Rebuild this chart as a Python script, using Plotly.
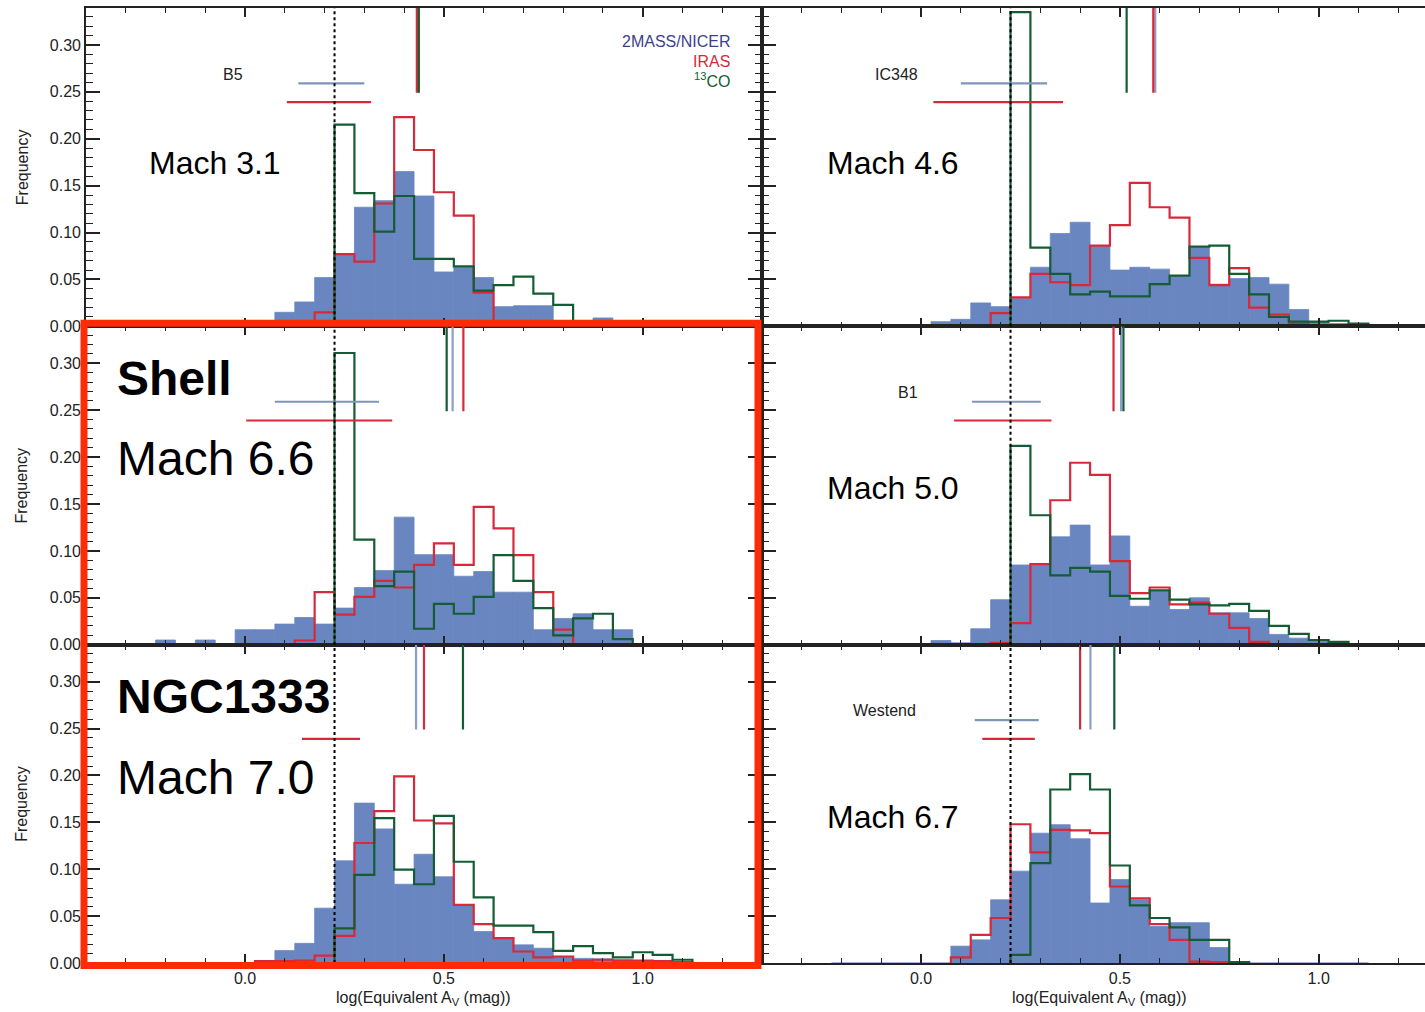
import plotly.graph_objects as go

# ---------------- data ----------------
BIN_WIDTH = 0.05
BIN_CENTERS = [-0.20, -0.15, -0.10, -0.05, 0.00, 0.05, 0.10, 0.15, 0.20, 0.25,
               0.30, 0.35, 0.40, 0.45, 0.50, 0.55, 0.60, 0.65, 0.70, 0.75,
               0.80, 0.85, 0.90, 0.95, 1.00, 1.05, 1.10]

#               -.20 -.15 -.10 -.05 0.00  0.05   0.10   0.15   0.20   0.25   0.30   0.35   0.40   0.45   0.50   0.55   0.60   0.65   0.70   0.75   0.80   0.85   0.90   0.95   1.00   1.05   1.10
B5_NICER =      [0, 0, 0, 0, 0,     0,     0.015, 0.026, 0.052, 0.077, 0.127, 0.134, 0.165, 0.139, 0.058, 0.063, 0.052, 0.021, 0.022, 0.022, 0,     0,     0.009, 0,     0,     0,     0]
B5_IRAS =       [0, 0, 0, 0, 0,     0,     0,     0,     0.015, 0.077, 0.069, 0.131, 0.223, 0.188, 0.143, 0.118, 0.036, 0,     0,     0,     0,     0,     0,     0,     0,     0,     0]
B5_CO =         [0, 0, 0, 0, 0,     0,     0,     0,     0,     0.215, 0.142, 0.101, 0.139, 0.072, 0.072, 0.064, 0.038, 0.044, 0.053, 0.035, 0.023, 0,     0,     0,     0,     0,     0]

IC348_NICER =   [0, 0, 0, 0, 0,     0.005, 0.0075, 0.025, 0.021, 0.030, 0.063, 0.099, 0.111, 0.086, 0.060, 0.063, 0.061, 0.054, 0.084, 0.045, 0.051, 0.052, 0.045, 0.018, 0.005, 0.003, 0]
IC348_IRAS =    [0, 0, 0, 0, 0,     0,     0,     0,     0.014, 0.031, 0.056, 0.047, 0.044, 0.086, 0.108, 0.153, 0.127, 0.116, 0.073, 0.044, 0.062, 0.020, 0.0125, 0.003, 0,   0,     0]
IC348_CO =      [0, 0, 0, 0, 0,     0,     0,     0,     0,     0.335, 0.084, 0.056, 0.034, 0.037, 0.032, 0.032, 0.045, 0.054, 0.085, 0.086, 0.056, 0.034, 0.010, 0.005, 0.005, 0.006, 0.003]

SHELL_NICER =   [0.005, 0, 0.005, 0, 0.016, 0.016, 0.022, 0.029, 0.022, 0.039, 0.061, 0.079, 0.136, 0.096, 0.096, 0.073, 0.078, 0.056, 0.056, 0.016, 0.028, 0.033, 0.016, 0.016, 0,  0,     0]
SHELL_IRAS =    [0, 0, 0, 0, 0,     0,     0,     0.0045, 0.056, 0.032, 0.051, 0.068, 0.061, 0.085, 0.108, 0.085, 0.147, 0.124, 0.0955, 0.056, 0.016, 0,   0,     0,     0,     0,     0]
SHELL_CO =      [0, 0, 0, 0, 0,     0,     0,     0,     0,     0.311, 0.112, 0.0625, 0.078, 0.017, 0.0436, 0.033, 0.051, 0.0955, 0.068, 0.039, 0.010, 0.028, 0.033, 0.006, 0,   0,     0]

B1_NICER =      [0, 0, 0, 0, 0,     0.0045, 0.002, 0.017, 0.048, 0.085, 0.085, 0.115, 0.1275, 0.085, 0.116, 0.041, 0.057, 0.0375, 0.050, 0.034, 0.034, 0.028, 0.011, 0.007, 0.0045, 0.002, 0]
B1_IRAS =       [0, 0, 0, 0, 0,     0,     0,     0,     0.002, 0.023, 0.086, 0.154, 0.194, 0.181, 0.089, 0.055, 0.061, 0.043, 0.045, 0.033, 0.018, 0.003, 0,     0,     0,     0,     0]
B1_CO =         [0, 0, 0, 0, 0,     0,     0,     0,     0,     0.212, 0.138, 0.074, 0.082, 0.078, 0.052, 0.049, 0.058, 0.048, 0.043, 0.042, 0.0435, 0.036, 0.020, 0.0115, 0.005, 0.003, 0]

NGC1333_NICER = [0, 0, 0, 0, 0,     0.001, 0.0133, 0.021, 0.0585, 0.109, 0.1705, 0.143, 0.084, 0.116, 0.092, 0.061, 0.0336, 0.0265, 0.0194, 0.0158, 0.007, 0.005, 0.0045, 0.0035, 0.0025, 0.002, 0.001]
NGC1333_IRAS =  [0, 0, 0, 0, 0,     0.002, 0.002, 0.0025, 0.008, 0.029, 0.128, 0.162, 0.199, 0.152, 0.149, 0.062, 0.0415, 0.0265, 0.0123, 0.006, 0.007, 0.0025, 0.0035, 0.0025, 0.0025, 0.002, 0.001]
NGC1333_CO =    [0, 0, 0, 0, 0,     0,     0,     0,     0,     0.037, 0.094, 0.1545, 0.0995, 0.084, 0.157, 0.108, 0.070, 0.040, 0.040, 0.033, 0.013, 0.018, 0.0105, 0.006, 0.0115, 0.0087, 0.0035]

WESTEND_NICER = [0, 0, 0, 0, 0,     0,     0.018, 0.0247, 0.0674, 0.098, 0.1385, 0.1475, 0.1325, 0.064, 0.089, 0.0674, 0.039, 0.043, 0.043, 0.0165, 0, 0,   0,     0,     0,     0,     0]
WESTEND_IRAS =  [0, 0, 0, 0, 0,     0,     0.006, 0.030, 0.048, 0.148, 0.118, 0.142, 0.1415, 0.1385, 0.0816, 0.069, 0.0415, 0.0247, 0.0016, 0.001, 0, 0,    0,     0,     0,     0,     0]
WESTEND_CO =    [0, 0, 0, 0, 0,     0,     0,     0,     0,     0.0087, 0.1065, 0.185, 0.2015, 0.185, 0.104, 0.0614, 0.048, 0.038, 0.0247, 0.0247, 0.001, 0, 0,   0,     0,     0,     0]

# mean values (vertical markers): NICER, IRAS, 13CO
B5_MEANS = [0.435, 0.432, 0.437]
IC348_MEANS = [0.589, 0.584, 0.517]
SHELL_MEANS = [0.522, 0.549, 0.507]
B1_MEANS = [0.503, 0.484, 0.509]
NGC1333_MEANS = [0.430, 0.450, 0.548]
WESTEND_MEANS = [0.426, 0.400, 0.486]

# horizontal ranges (NICER, IRAS); None = not drawn
B5_RANGES = [(0.134, 0.300), (0.105, 0.317)]
IC348_RANGES = [(0.100, 0.317), (0.031, 0.357)]
SHELL_RANGES = [(0.075, 0.337), (0.003, 0.370)]
B1_RANGES = [(0.128, 0.301), (0.083, 0.328)]
NGC1333_RANGES = [None, (0.143, 0.289)]
WESTEND_RANGES = [(0.135, 0.296), (0.154, 0.286)]

THRESHOLD = 0.225
MACH_LABELS = ["Mach 3.1", "Mach 4.6", "Mach 6.6", "Mach 5.0", "Mach 7.0", "Mach 6.7"]
CLOUD_LABELS = ["B5", "IC348", "Shell", "B1", "NGC1333", "Westend"]
LEGEND_TEXT = ["2MASS/NICER", "IRAS", "<sup>13</sup>CO"]

# ---------------- style ----------------
W = 1425
H = 1020            # figure height
YK = 1.010          # vertical pixel correction
FONT = "Liberation Sans, Arial, Helvetica, sans-serif"
BLUE_FILL = "#6986c1"
BLUE_MARK = "#8a9fcb"
BLUE_BAR = "#7f95bb"
RED = "#d8293a"
GREEN = "#145c34"
LEG_BLUE = "#3c3f8e"
AX = "#222222"
Y_TOP = 0.3394
MEAN_LINE_BOTTOM = 0.249
RANGE_LEVELS = [0.259, 0.239]

LEFT_X = (86, 762)
RIGHT_X = (762, W)
PX_PER_UNIT = 676 / 1.7
X_LEFT_RANGE = [-0.4, 1.3]
X_RIGHT_RANGE = [-0.4, -0.4 + (RIGHT_X[1] - RIGHT_X[0]) / PX_PER_UNIT]
ROW_TOPS = [8, 326, 644]
ROW_H = 318


def py(px):
    return 1 - px * YK / H


panels = [
    (B5_NICER, B5_IRAS, B5_CO, B5_MEANS, B5_RANGES),
    (IC348_NICER, IC348_IRAS, IC348_CO, IC348_MEANS, IC348_RANGES),
    (SHELL_NICER, SHELL_IRAS, SHELL_CO, SHELL_MEANS, SHELL_RANGES),
    (B1_NICER, B1_IRAS, B1_CO, B1_MEANS, B1_RANGES),
    (NGC1333_NICER, NGC1333_IRAS, NGC1333_CO, NGC1333_MEANS, NGC1333_RANGES),
    (WESTEND_NICER, WESTEND_IRAS, WESTEND_CO, WESTEND_MEANS, WESTEND_RANGES),
]


def step_xy(values):
    nz = [i for i, v in enumerate(values) if v > 0]
    i0, i1 = nz[0], nz[-1]
    edges = [BIN_CENTERS[i] - BIN_WIDTH / 2 for i in range(i0, i1 + 1)]
    edges.append(BIN_CENTERS[i1] + BIN_WIDTH / 2)
    xs = [edges[0]] + edges[:-1] + [edges[-1]]
    ys = [0] + list(values[i0:i1 + 1]) + [0]
    return xs, ys


fig = go.Figure()
layout = dict(
    width=W, height=H, margin=dict(l=0, r=0, t=0, b=0),
    paper_bgcolor="white", plot_bgcolor="white", showlegend=False,
    barmode="overlay", font=dict(family=FONT, size=16, color=AX),
)
shapes = []
annotations = []

for k, (nicer, iras, co, means, ranges) in enumerate(panels):
    row, col = divmod(k, 2)
    n = k + 1
    xa = "x" if n == 1 else f"x{n}"
    ya = "y" if n == 1 else f"y{n}"
    xkey = "xaxis" if n == 1 else f"xaxis{n}"
    ykey = "yaxis" if n == 1 else f"yaxis{n}"
    xpx = LEFT_X if col == 0 else RIGHT_X
    top = ROW_TOPS[row]
    layout[xkey] = dict(
        domain=[xpx[0] / W, xpx[1] / W], anchor=ya,
        range=X_LEFT_RANGE if col == 0 else X_RIGHT_RANGE,
        showline=True, linecolor=AX, linewidth=1.6, mirror="ticks",
        ticks="inside", ticklen=9, tickwidth=1.5, tickcolor=AX,
        tickmode="linear", tick0=0, dtick=0.5, tickformat=".1f",
        minor=dict(ticks="inside", ticklen=5, tickwidth=1.3, tickcolor=AX, dtick=0.1, tick0=0),
        showticklabels=(row == 2), tickfont=dict(size=16, family=FONT, color=AX),
        showgrid=False, zeroline=False, fixedrange=True,
    )
    layout[ykey] = dict(
        domain=[py(top + ROW_H), py(top)], anchor=xa,
        range=[0, Y_TOP],
        showline=True, linecolor=AX, linewidth=1.6, mirror="ticks" if col == 0 else False,
        ticks="inside", ticklen=14, tickwidth=1.5, tickcolor=AX,
        tickmode="linear", tick0=0, dtick=0.05, tickformat=".2f",
        minor=dict(ticks="inside", ticklen=7, tickwidth=1.3, tickcolor=AX, dtick=0.01, tick0=0),
        showticklabels=(col == 0), tickfont=dict(size=16, family=FONT, color=AX),
        showgrid=False, zeroline=False, fixedrange=True,
    )

    fig.add_trace(go.Bar(x=BIN_CENTERS, y=nicer, width=BIN_WIDTH,
                         marker=dict(color=BLUE_FILL, line=dict(width=0.8, color=BLUE_FILL)),
                         xaxis=xa, yaxis=ya))
    for vals, color in ((iras, RED), (co, GREEN)):
        sx, sy = step_xy(vals)
        fig.add_trace(go.Scatter(x=sx, y=sy, mode="lines", line=dict(color=color, width=2.2, shape="hv"),
                                 xaxis=xa, yaxis=ya))

    # threshold dotted line
    shapes.append(dict(type="line", xref=xa, yref=f"{ya} domain", x0=THRESHOLD, x1=THRESHOLD, y0=0, y1=1,
                       line=dict(color="black", width=2, dash="dot"), layer="above"))

    # horizontal ranges
    for rng, lvl, color in zip(ranges, RANGE_LEVELS, (BLUE_BAR, RED)):
        if rng is None:
            continue
        fig.add_trace(go.Scatter(x=list(rng), y=[lvl, lvl], mode="lines", line=dict(color=color, width=2.2),
                                 xaxis=xa, yaxis=ya))
    # mean markers
    for m, color in zip(means, (BLUE_MARK, RED, GREEN)):
        fig.add_trace(go.Scatter(x=[m, m], y=[MEAN_LINE_BOTTOM, Y_TOP], mode="lines",
                                 line=dict(color=color, width=2.2), xaxis=xa, yaxis=ya))

    # labels
    if k in (2, 4):
        annotations.append(dict(x=-0.326, y=0.284, xref=xa, yref=ya, text=f"<b>{CLOUD_LABELS[k]}</b>",
                                showarrow=False, xanchor="left", yanchor="middle",
                                font=dict(family=FONT, size=48, color="black")))
        annotations.append(dict(x=-0.326, y=0.198, xref=xa, yref=ya, text=MACH_LABELS[k],
                                showarrow=False, xanchor="left", yanchor="middle",
                                font=dict(family=FONT, size=48, color="black")))
    else:
        lab_x = {0: -0.03, 1: -0.063, 3: -0.033, 5: -0.093}[k]
        annotations.append(dict(x=lab_x, y=0.269, xref=xa, yref=ya, text=CLOUD_LABELS[k],
                                showarrow=False, xanchor="center", yanchor="middle",
                                font=dict(family=FONT, size=16, color=AX)))
        mach_y = {0: 0.174, 1: 0.174, 3: 0.167, 5: 0.156}[k]
        mach_x = -0.0754 if col == 0 else -0.070
        annotations.append(dict(x=mach_x, y=mach_y, xref=xa, yref=ya, text=MACH_LABELS[k],
                                showarrow=False, xanchor="center", yanchor="middle",
                                font=dict(family=FONT, size=32, color="black")))

    # y titles
    if col == 0:
        annotations.append(dict(x=22 / W, y=py(top + ROW_H / 2), xref="paper", yref="paper",
                                text="Frequency", textangle=-90, showarrow=False,
                                xanchor="center", yanchor="middle",
                                font=dict(family=FONT, size=16, color=AX)))

# legend text (top-left panel)
for txt, color, yv in zip(LEGEND_TEXT, (LEG_BLUE, RED, GREEN), (0.3034, 0.282, 0.2625)):
    annotations.append(dict(x=1.225, y=yv, xref="x", yref="y", text=txt, showarrow=False,
                            xanchor="right", yanchor="middle", font=dict(family=FONT, size=16, color=color)))

# x titles
for xa in ("x5", "x6"):
    annotations.append(dict(x=0.449, y=py(997), xref=xa, yref="paper",
                            text="log(Equivalent A<sub>V</sub> (mag))", showarrow=False,
                            xanchor="center", yanchor="middle", font=dict(family=FONT, size=16, color=AX)))

# red highlight box around Shell and NGC1333 panels
shapes.append(dict(type="rect", xref="paper", yref="paper", x0=84 / W, x1=758 / W,
                   y0=py(964.5), y1=py(323), line=dict(color="#ff2a06", width=7),
                   fillcolor="rgba(0,0,0,0)", layer="above"))

layout["shapes"] = shapes
layout["annotations"] = annotations
fig.update_layout(**layout)
fig.write_html("out.html")
